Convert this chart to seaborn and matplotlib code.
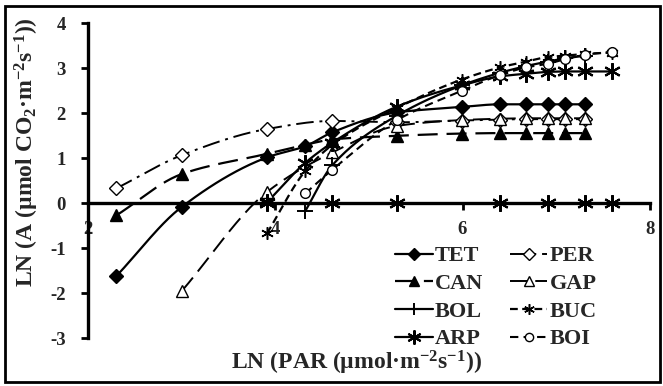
import numpy as np
import pandas as pd
import matplotlib
matplotlib.use("Agg")
import matplotlib.pyplot as plt
import seaborn as sns
from matplotlib.lines import Line2D
from matplotlib.patches import Rectangle

# ---------------- data ----------------
ln_par = [2.30, 3.00, 3.91, 4.32, 4.61, 5.30, 5.99, 6.40, 6.68, 6.91, 7.09, 7.31, 7.60]
nan = np.nan
tet = [-1.62, -0.08, 1.02, 1.27, 1.58, 2.02, 2.14, 2.20, 2.20, 2.20, 2.20, 2.20, nan]
per = [0.33, 1.07, 1.65, nan, 1.83, 1.80, 1.84, 1.86, 1.87, 1.87, 1.87, 1.87, nan]
can = [-0.27, 0.65, 1.10, 1.30, 1.42, 1.50, 1.55, 1.56, 1.56, 1.56, 1.56, 1.56, nan]
gap = [nan, -1.95, 0.25, nan, 1.13, 1.72, 1.85, 1.88, 1.89, 1.89, 1.89, 1.89, nan]
bol = [nan, nan, nan, -0.17, 0.85, 1.95, 2.62, 2.90, 3.05, 3.15, 3.22, 3.28, nan]
buc = [nan, nan, -0.67, 0.72, 1.30, 2.12, 2.75, 3.02, 3.15, 3.25, 3.28, 3.32, 3.35]
arp = [nan, nan, 0.02, 0.90, 1.35, 2.15, 2.62, 2.82, 2.88, 2.92, 2.93, 2.93, 2.93]
boi = [nan, nan, nan, 0.22, 0.75, 1.85, 2.50, 2.85, 3.02, 3.10, 3.20, 3.30, 3.37]
arp_zero_x = [3.91, 4.61, 5.30, 6.40, 6.91, 7.31, 7.60]
arp_zero_y = [0, 0, 0, 0, 0, 0, 0]

series_names = ["TET", "PER", "CAN", "GAP", "BOL", "BUC", "ARP", "BOI"]
series_vals = [tet, per, can, gap, bol, buc, arp, boi]

x_ticks = [2, 4, 6, 8]
y_ticks = [-3, -2, -1, 0, 1, 2, 3, 4]

# ---------------- styles ----------------
styles = {
    "TET": dict(dashes=None, marker="D", ms=7, fc="black", mew=1.0, lw=1.6),
    "PER": dict(dashes=(9, 3, 1.5, 3), marker="D", ms=7, fc="white", mew=1.0, lw=1.4),
    "CAN": dict(dashes=(9, 4), marker="^", ms=8, fc="black", mew=1.0, lw=1.6),
    "GAP": dict(dashes=(9, 4), marker="^", ms=8, fc="white", mew=1.0, lw=1.4),
    "BOL": dict(dashes=None, marker="+", ms=11, fc="black", mew=1.4, lw=1.6),
    "BUC": dict(dashes=(3.5, 2), marker=(6, 2, 0), ms=9, fc="black", mew=1.1, lw=1.6),
    "ARP": dict(dashes=None, marker=(6, 2, 0), ms=12, fc="black", mew=1.5, lw=1.6),
    "BOI": dict(dashes=(4, 2.5), marker="o", ms=7, fc="white", mew=1.0, lw=1.5),
}


def pchip(x, y, n=25):
    x = np.asarray(x, float)
    y = np.asarray(y, float)
    h = np.diff(x)
    d = np.diff(y) / h
    m = np.zeros_like(x)
    m[0], m[-1] = d[0], d[-1]
    for k in range(1, len(x) - 1):
        if d[k - 1] * d[k] <= 0:
            m[k] = 0.0
        else:
            w1 = 2 * h[k] + h[k - 1]
            w2 = h[k] + 2 * h[k - 1]
            m[k] = (w1 + w2) / (w1 / d[k - 1] + w2 / d[k])
    xs, ys = [], []
    for k in range(len(x) - 1):
        t = np.linspace(0, 1, n, endpoint=(k == len(x) - 2))
        h00 = 2 * t**3 - 3 * t**2 + 1
        h10 = t**3 - 2 * t**2 + t
        h01 = -2 * t**3 + 3 * t**2
        h11 = t**3 - t**2
        xs.append(x[k] + t * h[k])
        ys.append(h00 * y[k] + h10 * h[k] * m[k] + h01 * y[k + 1] + h11 * h[k] * m[k + 1])
    return np.concatenate(xs), np.concatenate(ys)


# ---------------- figure ----------------
sns.set_theme(style="white")
plt.rcParams["font.family"] = ["Liberation Serif", "DejaVu Serif"]
plt.rcParams["font.weight"] = "bold"
plt.rcParams["mathtext.default"] = "regular"

fig = plt.figure(figsize=(6.63, 3.86), dpi=100)
ax = fig.add_axes([0.133, 0.1236, 0.847, 0.816])

for name, vals in zip(series_names, series_vals):
    st = styles[name]
    df = pd.DataFrame({"x": ln_par, "y": vals}).dropna()
    sx, sy = pchip(df["x"].values, df["y"].values)
    sns.lineplot(x=sx, y=sy, ax=ax, sort=False, estimator=None, color="black", lw=st["lw"])
    ln = ax.get_lines()[-1]
    if st["dashes"] is not None:
        ln.set_dashes(st["dashes"])
    ax.plot(df["x"], df["y"], ls="none", marker=st["marker"], ms=st["ms"],
            mfc=st["fc"], mec="black", mew=st["mew"], zorder=4)

# ARP markers lying on the zero line
ax.plot(arp_zero_x, arp_zero_y, ls="none", marker=styles["ARP"]["marker"],
        ms=styles["ARP"]["ms"], mec="black", mew=styles["ARP"]["mew"], zorder=4)

ax.set_xlim(2, 8)
ax.set_ylim(-3, 4)
ax.set_xticks(x_ticks)
ax.set_yticks(y_ticks)
ax.set_xticklabels([str(v) for v in x_ticks])
ax.set_yticklabels([str(v) for v in y_ticks])
ax.set_xlabel("")
ax.set_ylabel("")

for s in ["top", "right"]:
    ax.spines[s].set_visible(False)
ax.spines["bottom"].set_position(("data", 0))
ax.spines["bottom"].set_linewidth(2.4)
ax.spines["left"].set_linewidth(2.4)
ax.spines["bottom"].set_color("black")
ax.spines["left"].set_color("black")
ax.tick_params(axis="both", direction="out", length=5, width=2, color="black",
               labelsize=13.5, bottom=True, left=True)
ax.tick_params(axis="x", pad=8)
ax.tick_params(axis="y", pad=11)
for lab in ax.get_xticklabels() + ax.get_yticklabels():
    lab.set_fontweight("bold")

fig.text(0.040, 0.605, "LN (A (µmol CO$_2$·m$^{-2}$s$^{-1}$))", rotation=90,
         ha="center", va="center", fontsize=17, fontweight="bold")
fig.text(0.537, 0.060, "LN (PAR (µmol·m$^{-2}$s$^{-1}$))",
         ha="center", va="center", fontsize=17, fontweight="bold")

# legend
handles = []
for name in series_names:
    st = styles[name]
    h = Line2D([], [], color="black", lw=st["lw"], marker=st["marker"], ms=st["ms"] * 0.85,
               mfc=st["fc"], mec="black", mew=st["mew"])
    if st["dashes"] is not None:
        h.set_dashes(st["dashes"])
    handles.append(h)
order = [0, 2, 4, 6, 1, 3, 5, 7]
leg = ax.legend([handles[i] for i in order], [series_names[i] for i in order],
                ncol=2, loc="lower left", bbox_to_anchor=(0.546, -0.035), frameon=False,
                handlelength=1.7, handletextpad=0.1, columnspacing=1.2,
                labelspacing=0.32, borderaxespad=0.0, borderpad=0.0,
                prop={"family": ["Liberation Serif"], "weight": "bold", "size": 16})

fig.patches.append(Rectangle((0.0075, 0.0104), 0.988, 0.9736, transform=fig.transFigure,
                             fill=False, lw=2, ec="black"))

fig.savefig("out.png", dpi=100)
